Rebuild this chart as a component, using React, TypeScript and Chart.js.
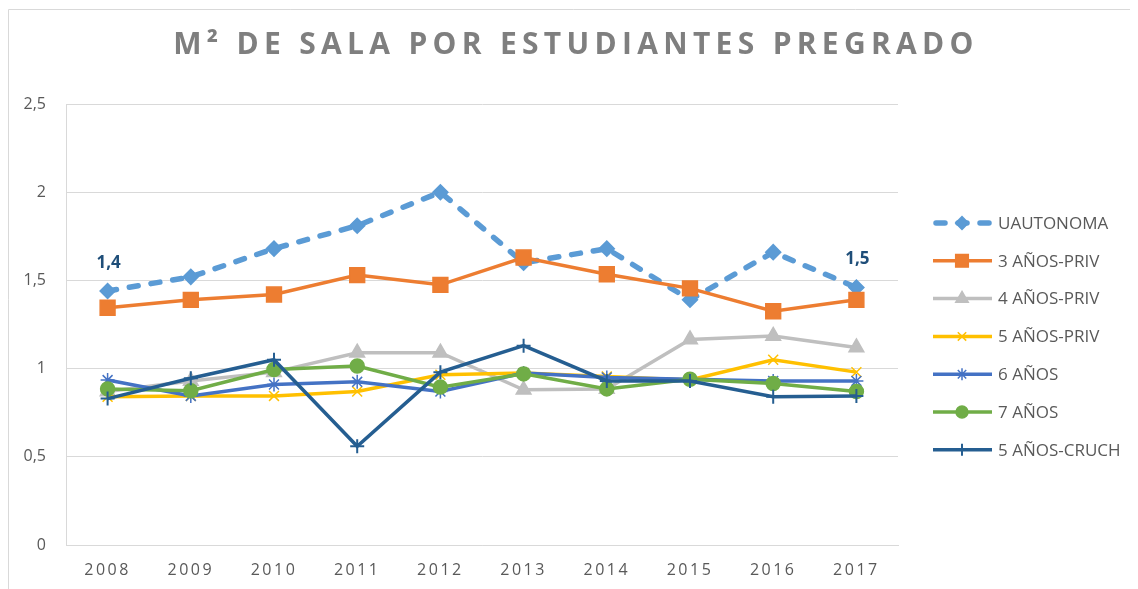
import React, { useEffect, useRef } from 'react';
import { Chart, registerables } from 'chart.js';
import { drawPoint } from 'chart.js/helpers';

Chart.register(...registerables);

const years = ['2008', '2009', '2010', '2011', '2012', '2013', '2014', '2015', '2016', '2017'];
const uautonoma = [1.44, 1.52, 1.68, 1.81, 2.0, 1.6, 1.68, 1.39, 1.66, 1.46];
const priv3 = [1.345, 1.39, 1.42, 1.53, 1.475, 1.63, 1.535, 1.455, 1.325, 1.39];
const priv4 = [0.87, 0.93, 0.98, 1.09, 1.09, 0.88, 0.885, 1.165, 1.185, 1.12];
const priv5 = [0.84, 0.845, 0.845, 0.87, 0.965, 0.975, 0.955, 0.935, 1.05, 0.98];
const anios6 = [0.935, 0.845, 0.91, 0.925, 0.87, 0.975, 0.95, 0.94, 0.93, 0.93];
const anios7 = [0.885, 0.875, 0.995, 1.015, 0.895, 0.97, 0.885, 0.94, 0.915, 0.87];
const cruch5 = [0.83, 0.945, 1.05, 0.56, 0.98, 1.13, 0.93, 0.93, 0.84, 0.845];
const labeledPoints = [0, 9];
const yTicks = [0, 0.5, 1, 1.5, 2, 2.5];

const TITLE = 'M² DE SALA POR ESTUDIANTES PREGRADO';
const FONT = "'Open Sans', 'DejaVu Sans', sans-serif";

const fmt = (v: number, d: number) => v.toFixed(d).replace('.', ',');

export default function App() {
  const ref = useRef<HTMLCanvasElement | null>(null);

  useEffect(() => {
    document.body.style.margin = '8px';
    const canvas = ref.current!;
    const mk = (label: string, data: number[], color: string, style: string, radius: number, extra: any = {}) => ({
      label,
      data,
      borderColor: color,
      backgroundColor: color,
      pointBackgroundColor: color,
      pointBorderColor: color,
      borderWidth: 3.5,
      pointStyle: style,
      pointRadius: radius,
      pointBorderWidth: 1.5,
      tension: 0,
      ...extra,
    });
    const datasets: any[] = [
      mk('UAUTONOMA', uautonoma, '#5B9BD5', 'rectRot', 7.5, { borderDash: [9, 13], borderWidth: 5.5, borderCapStyle: 'round', order: 7 }),
      mk('3 AÑOS-PRIV', priv3, '#ED7D31', 'rect', 10.5, { order: 6 }),
      mk('4 AÑOS-PRIV', priv4, '#BFBFBF', 'triangle', 8.5, { order: 5 }),
      mk('5 AÑOS-PRIV', priv5, '#FFC000', 'crossRot', 7, { order: 4 }),
      mk('6 AÑOS', anios6, '#4472C4', 'star', 7, { order: 3 }),
      mk('7 AÑOS', anios7, '#70AD47', 'circle', 7, { order: 2 }),
      mk('5 AÑOS-CRUCH', cruch5, '#255E91', 'cross', 7, { order: 1, pointBorderWidth: 2 }),
    ];

    const decor = {
      id: 'decor',
      afterLayout(chart: any) {
        const xs = chart.scales.x;
        if (xs && !xs.__spaced) {
          const orig = xs.drawLabels.bind(xs);
          xs.drawLabels = (area: any) => {
            const ctx = chart.ctx;
            const prev = ctx.letterSpacing;
            ctx.letterSpacing = '2.5px';
            orig(area);
            ctx.letterSpacing = prev || '0px';
          };
          xs.__spaced = true;
        }
      },
      beforeDraw(chart: any) {
        const ctx = chart.ctx;
        ctx.save();
        ctx.strokeStyle = '#d9d9d9';
        ctx.lineWidth = 1;
        ctx.beginPath();
        ctx.moveTo(0.5, chart.height);
        ctx.lineTo(0.5, 1.5);
        ctx.lineTo(chart.width, 1.5);
        ctx.stroke();
        ctx.restore();
      },
      afterDatasetsDraw(chart: any) {
        const ctx = chart.ctx;
        const meta = chart.getDatasetMeta(0);
        ctx.save();
        ctx.font = `bold 17px ${FONT}`;
        ctx.fillStyle = '#1F4E79';
        ctx.textAlign = 'center';
        ctx.textBaseline = 'middle';
        labeledPoints.forEach((i) => {
          const p = meta.data[i];
          ctx.fillText(fmt(uautonoma[i], 1), p.x + 1, p.y - 28);
        });
        ctx.restore();
      },
      afterDraw(chart: any) {
        const ctx = chart.ctx;
        ctx.save();
        ctx.letterSpacing = '5.3px';
        ctx.font = `bold 30px ${FONT}`;
        ctx.fillStyle = '#7F7F7F';
        ctx.textAlign = 'center';
        ctx.textBaseline = 'middle';
        ctx.fillText(TITLE, 568, 37);
        ctx.restore();

        // legend
        ctx.save();
        const ds = chart.data.datasets;
        const x0 = 925, x1 = 984, xm = 954, xt = 990, y0 = 215, step = 37.8;
        ds.forEach((d: any, i: number) => {
          const y = y0 + i * step;
          ctx.save();
          ctx.strokeStyle = d.borderColor;
          ctx.lineWidth = d.borderWidth;
          ctx.lineCap = d.borderCapStyle || 'butt';
          ctx.setLineDash(d.borderDash || []);
          ctx.beginPath();
          ctx.moveTo(d.borderDash ? x0 + 3 : x0, y);
          ctx.lineTo(d.borderDash ? x1 - 3 : x1, y);
          ctx.stroke();
          ctx.setLineDash([]);
          ctx.fillStyle = d.pointBackgroundColor;
          ctx.strokeStyle = d.pointBorderColor;
          ctx.lineWidth = d.pointBorderWidth;
          drawPoint(ctx, { pointStyle: d.pointStyle, rotation: 0, radius: d.pointRadius * 0.85, borderWidth: d.pointBorderWidth } as any, xm, y);
          ctx.restore();
          ctx.font = `17px ${FONT}`;
          ctx.fillStyle = '#595959';
          ctx.textAlign = 'left';
          ctx.textBaseline = 'middle';
          ctx.fillText(d.label, xt, y + 1);
        });
        ctx.restore();
      },
    };

    const chart = new Chart(canvas, {
      type: 'line',
      data: { labels: years, datasets },
      options: {
        responsive: false,
        animation: false,
        devicePixelRatio: 1,
        layout: { padding: { left: 0, top: 96, right: 240, bottom: 0 } },
        plugins: { legend: { display: false }, title: { display: false }, tooltip: { enabled: false } },
        scales: {
          x: {
            offset: true,
            grid: { display: false, drawTicks: false },
            border: { display: true, color: '#d9d9d9' },
            ticks: { color: '#595959', font: { family: FONT, size: 16 }, padding: 16, maxRotation: 0 },
            afterFit: (s: any) => { s.height = 44; },
          },
          y: {
            min: 0,
            max: 2.5,
            afterBuildTicks: (s: any) => { s.ticks = yTicks.map((v) => ({ value: v })); },
            grid: { color: '#d9d9d9', lineWidth: 1, drawTicks: false },
            border: { display: true, color: '#d9d9d9' },
            ticks: {
              color: '#595959',
              font: { family: FONT, size: 16 },
              padding: 20,
              callback: (v: any) => (Number.isInteger(v) ? String(v) : fmt(v, 1)),
            },
            afterFit: (s: any) => { s.width = 58; },
          },
        },
      } as any,
      plugins: [decor],
    });
    return () => chart.destroy();
  }, []);

  return (
    <div style={{ width: 1130, height: 581 }}>
      <canvas ref={ref} width={1130} height={581} style={{ display: 'block' }} />
    </div>
  );
}
